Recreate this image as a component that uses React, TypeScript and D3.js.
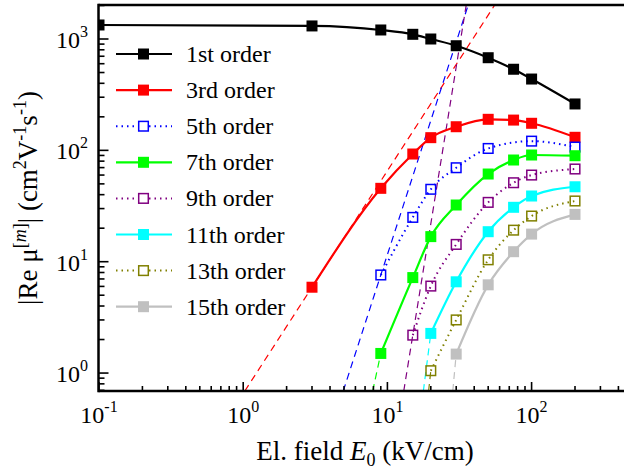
import React from 'react';
import * as d3 from 'd3';

const LABELS = ['1st order', '3rd order', '5th order', '7th order', '9th order', '11th order', '13th order', '15th order'];
const COLORS = ['#000000', '#ff0000', '#0000ff', '#00ff00', '#800080', '#00ffff', '#808000', '#c0c0c0'];
const FILLED = [true, true, false, true, false, true, false, true];
const DOTTED = [false, false, true, false, true, false, true, false];

const X1 = [0.1, 3, 9, 15, 20, 30, 50, 75, 100, 200];
const Y1 = [1336, 1310, 1205, 1102, 1000, 870, 679, 535, 437, 261];
const X3 = [3, 9, 15, 20, 30, 50, 75, 100, 200];
const Y3 = [5.9, 45.6, 92.7, 130, 163, 190, 187, 175, 131];
const X5 = [9, 15, 20, 30, 50, 100, 200];
const Y5 = [7.6, 25, 44.7, 69.8, 104, 121, 107];
const X7 = [9, 15, 20, 30, 50, 75, 100, 200];
const Y7 = [1.5, 7.2, 16.8, 32.3, 61.3, 81.9, 90.8, 89.5];
const X9 = [15, 20, 30, 50, 75, 100, 200];
const Y9 = [2.19, 6.04, 14.3, 34.1, 51.2, 60, 68];
const X11 = [20, 30, 50, 75, 100, 200];
const Y11 = [2.27, 6.6, 18.6, 30.8, 38.9, 47.1];
const X13 = [20, 30, 50, 75, 100, 200];
const Y13 = [1.05, 3.0, 10.4, 19.2, 25.7, 35.1];
const X15 = [30, 50, 75, 100, 200];
const Y15 = [1.48, 6.2, 12.3, 17.7, 26.6];

const SERIES_X = [X1, X3, X5, X7, X9, X11, X13, X15];
const SERIES_Y = [Y1, Y3, Y5, Y7, Y9, Y11, Y13, Y15];

// low-field power-law asymptotes: exponent (order - 1), whether the dashed line runs to the top
const ASYM_EXP = [0, 2, 4, 6, 8, 10, 12, 14];
const ASYM_TOP = [false, true, true, false, true, false, false, false];

const X_TICK_EXP = [-1, 0, 1, 2];
const Y_TICK_EXP = [0, 1, 2, 3];

const FONT = '"Liberation Serif", "Times New Roman", serif';

export default function App() {
  const W = 624, H = 469;
  const left = 98.5, right = 630, top = 5, bottom = 391;
  const dec = 144.2;
  const xMin = Math.pow(10, -1 - 0.5 / dec);
  const xMax = Math.pow(10, -1 + (right - 99) / dec);
  const x = d3.scaleLog().domain([xMin, xMax]).range([left, right]);
  const y = d3.scaleLog().domain([0.69, 2020]).range([bottom, top]);

  const line = d3.line<[number, number]>()
    .x(d => x(d[0]))
    .y(d => y(d[1]))
    .curve(d3.curveMonotoneX);
  const straight = d3.line<[number, number]>().x(d => x(d[0])).y(d => y(d[1]));

  const [yLo, yHi] = y.domain();

  const xTicks: { v: number; major: boolean }[] = [];
  for (let e = -2; e <= 3; e++) for (let k = 1; k <= 9; k++) {
    const v = k * Math.pow(10, e);
    if (v >= xMin && v <= xMax) xTicks.push({ v, major: k === 1 });
  }
  const yTicks: { v: number; major: boolean }[] = [];
  for (let e = -1; e <= 3; e++) for (let k = 1; k <= 9; k++) {
    const v = k * Math.pow(10, e);
    if (v >= yLo && v <= yHi) yTicks.push({ v, major: k === 1 });
  }

  const ms = 11;

  return (
    <svg width={W} height={H} style={{ position: 'absolute', left: 0, top: 0, background: '#fff' }} fontFamily={FONT}>
      <defs>
        <clipPath id="plot">
          <rect x={left} y={top} width={right - left} height={bottom - top} />
        </clipPath>
      </defs>
      <rect x={0} y={0} width={W} height={H} fill="#fff" />
      <g clipPath="url(#plot)">
        {/* asymptotes */}
        {SERIES_X.map((xs, i) => {
          const n = ASYM_EXP[i];
          if (n === 0) return null;
          const x0 = xs[0], y0 = SERIES_Y[i][0];
          const eLo = x0 * Math.pow(yLo / y0, 1 / n);
          const eHi = ASYM_TOP[i] ? x0 * Math.pow(yHi / y0, 1 / n) : x0;
          return (
            <path key={'a' + i} d={straight([[eLo, yLo], [eHi, ASYM_TOP[i] ? yHi : y0]]) || ''}
              fill="none" stroke={COLORS[i]} strokeWidth={1.2} strokeDasharray="7,5" />
          );
        })}
        {SERIES_X.map((xs, i) => {
          const pts: [number, number][] = xs.map((v, j) => [v, SERIES_Y[i][j]]);
          return (
            <path key={'l' + i} d={line(pts) || ''} fill="none" stroke={COLORS[i]}
              strokeWidth={DOTTED[i] ? 2 : 2.2} strokeDasharray={DOTTED[i] ? '1.5,4' : undefined} />
          );
        })}
        {SERIES_X.map((xs, i) => xs.map((v, j) => (
          FILLED[i] ? (
            <rect key={'m' + i + '-' + j} x={x(v) - ms / 2} y={y(SERIES_Y[i][j]) - ms / 2} width={ms} height={ms} fill={COLORS[i]} />
          ) : (
            <rect key={'m' + i + '-' + j} x={x(v) - 4.8} y={y(SERIES_Y[i][j]) - 4.8} width={9.6} height={9.6} fill="none" stroke={COLORS[i]} strokeWidth={1.5} />
          )
        )))}
      </g>

      {/* axes */}
      <line x1={left} x2={W} y1={top} y2={top} stroke="#000" strokeWidth={2.5} />
      <line x1={left} x2={W} y1={bottom} y2={bottom} stroke="#000" strokeWidth={2.5} />
      <line x1={left} x2={left} y1={top - 1.2} y2={bottom + 1.2} stroke="#000" strokeWidth={2.5} />
      {xTicks.map((t, i) => (
        <line key={'xt' + i} x1={x(t.v)} x2={x(t.v)} y1={bottom} y2={bottom - (t.major ? 9 : 5)} stroke="#000" strokeWidth={1.6} />
      ))}
      {yTicks.map((t, i) => (
        <line key={'yt' + i} x1={left} x2={left + (t.major ? 10 : 6)} y1={y(t.v)} y2={y(t.v)} stroke="#000" strokeWidth={1.6} />
      ))}
      {X_TICK_EXP.map(e => (
        <text key={'xl' + e} x={x(Math.pow(10, e))} y={423} textAnchor="middle" fontSize={24}>
          10<tspan dy={-11} fontSize={16}>{e}</tspan>
        </text>
      ))}
      {Y_TICK_EXP.map(e => (
        <text key={'yl' + e} x={88} y={y(Math.pow(10, e)) + 9} textAnchor="end" fontSize={24}>
          10<tspan dy={-11} fontSize={16}>{e}</tspan>
        </text>
      ))}

      {/* axis titles */}
      <text x={365} y={460} textAnchor="middle" fontSize={27}>
        El. field <tspan fontStyle="italic">E</tspan><tspan dy={6} fontSize={18}>0</tspan><tspan dy={-6}> (kV/cm)</tspan>
      </text>
      <text transform="translate(37,198) rotate(-90)" textAnchor="middle" fontSize={27}>
        |Re μ<tspan dy={-11} fontSize={18}>[</tspan><tspan fontSize={18} fontStyle="italic">m</tspan><tspan fontSize={18}>]</tspan><tspan dy={11}>| (cm</tspan><tspan dy={-11} fontSize={18}>2</tspan><tspan dy={11}>V</tspan><tspan dy={-11} fontSize={18}>-1</tspan><tspan dy={11}>s</tspan><tspan dy={-11} fontSize={18}>-1</tspan><tspan dy={11}>)</tspan>
      </text>

      {/* legend */}
      {LABELS.map((lab, i) => {
        const cy = 54 + 36.1 * i;
        return (
          <g key={'lg' + i}>
            <line x1={116} x2={172} y1={cy} y2={cy} stroke={COLORS[i]} strokeWidth={DOTTED[i] ? 2 : 2.2}
              strokeDasharray={DOTTED[i] ? '1.5,4' : undefined} />
            {FILLED[i] ? (
              <rect x={143.5 - ms / 2} y={cy - ms / 2} width={ms} height={ms} fill={COLORS[i]} />
            ) : (
              <rect x={143.5 - 4.8} y={cy - 4.8} width={9.6} height={9.6} fill="#fff" stroke={COLORS[i]} strokeWidth={1.5} />
            )}
            <text x={186} y={cy + 8} fontSize={24}>{lab}</text>
          </g>
        );
      })}
    </svg>
  );
}
